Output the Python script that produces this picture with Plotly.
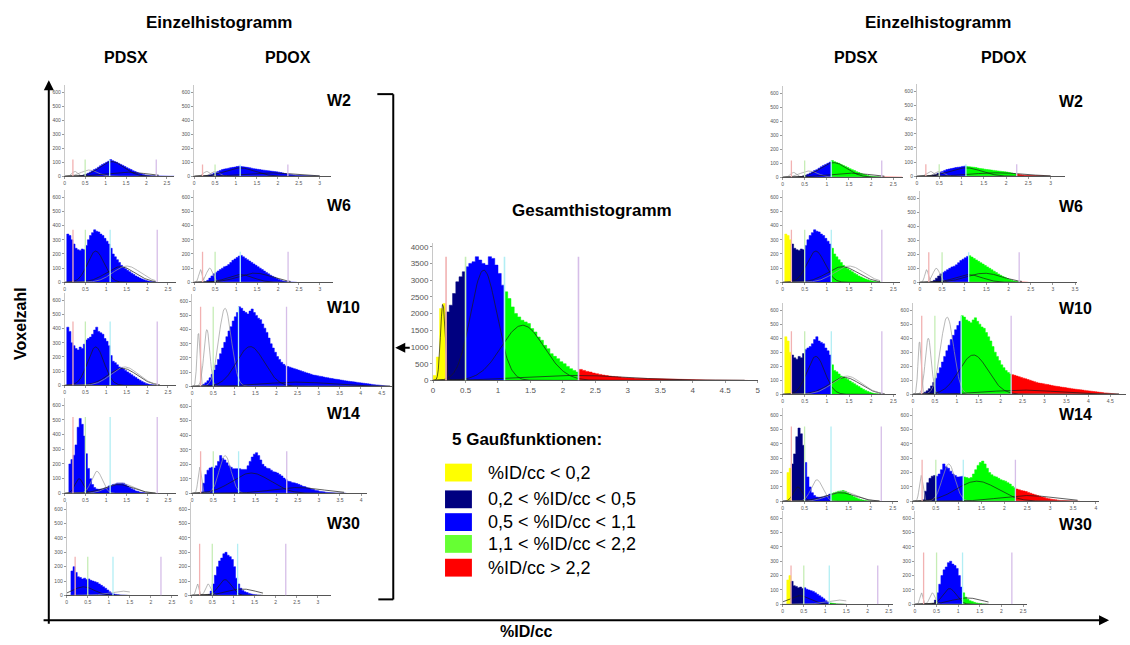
import numpy as np
import plotly.graph_objects as go

# ---------------- data ----------------
BIN = 0.05
thresholds = [0.2, 0.5, 1.1, 2.24]
class_colors = ["#FFFF00", "#000080", "#0000FF", "#00FF00", "#FF0000"]
legend_colors = ["#FFFF00", "#000080", "#0000FF", "#66FF33", "#FF0000"]
legend_labels = ["%ID/cc < 0,2", "0,2 < %ID/cc < 0,5", "0,5 < %ID/cc < 1,1",
                 "1,1 < %ID/cc < 2,2", "%ID/cc > 2,2"]
thr_line_colors = ["#F2B2B2", "#C6EDB6", "#B2EEF4", "#D6BEE8"]
weeks = ["W2", "W6", "W10", "W14", "W30"]
models = ["PDSX", "PDOX"]

# histogram bin heights (bin width 0.05, first bin left edge = *_start)
w2_pdsx_start = 0.35
w2_pdsx = [3, 6, 10, 15, 22, 30, 38, 48, 55, 65, 75, 85, 92, 100, 108, 120, 112, 105, 100, 92,
           85, 78, 70, 62, 55, 48, 40, 34, 28, 22, 18, 14, 10, 8, 6, 5, 4, 3, 3, 2, 2, 2, 1, 1, 1, 1, 1]
w2_pdox_start = 0.25
w2_pdox = [3, 6, 10, 15, 22, 28, 35, 42, 48, 52, 55, 58, 62, 64, 66, 70, 72, 70, 68, 66,
           64, 62, 58, 55, 53, 50, 48, 46, 44, 42, 40, 38, 36, 34, 32, 30, 27, 24, 20, 17,
           14, 12, 10, 8, 7, 6, 5, 4, 3, 3, 2, 2, 1, 1, 1]
w6_pdsx_start = 0.05
w6_pdsx = [340, 330, 300, 270, 240, 230, 225, 235, 230, 260, 300, 330, 350, 370, 360, 355, 340,
           330, 310, 290, 270, 240, 200, 180, 160, 140, 120, 105, 95, 85, 75, 65, 55, 45, 38, 30,
           24, 18, 13, 9, 6, 4, 2, 1]
w6_pdox_start = 0.25
w6_pdox = [5, 15, 30, 45, 60, 70, 80, 90, 100, 110, 115, 125, 140, 155, 165, 175, 185, 190, 180,
           170, 160, 150, 140, 130, 120, 110, 100, 90, 80, 70, 60, 50, 42, 35, 27, 20, 15, 10, 7,
           5, 3, 2, 1, 1]
w10_pdsx_start = 0.05
w10_pdsx = [410, 380, 300, 280, 260, 250, 270, 260, 290, 320, 330, 340, 360, 390, 410, 380, 370,
            360, 330, 310, 280, 210, 170, 160, 145, 130, 125, 115, 105, 95, 85, 75, 65, 55, 45,
            36, 28, 20, 14, 9, 6, 4, 2, 1]
w10_pdox_start = 0.20
w10_pdox = [5, 15, 25, 40, 60, 85, 115, 150, 190, 230, 270, 310, 350, 390, 420, 460, 490, 520,
            560, 550, 530, 520, 510, 530, 545, 520, 500, 480, 470, 440, 410, 380, 340, 300, 270,
            240, 210, 190, 170, 155, 145, 140, 135, 130, 125, 120, 115, 110, 105, 100, 95, 90,
            85, 80, 78, 75, 72, 70, 66, 63, 60, 57, 55, 52, 50, 48, 45, 43, 40, 38, 36, 34, 32,
            30, 28, 26, 24, 22, 20, 18, 16, 14, 12, 10, 9, 8, 7, 6, 5, 4]
w14_pdsx_start = 0.10
w14_pdsx = [200, 230, 260, 330, 450, 510, 470, 390, 270, 170, 100, 60, 40, 30, 28, 28, 30, 35,
            40, 50, 55, 60, 65, 70, 72, 75, 70, 60, 50, 40, 32, 25, 18, 13, 9, 6, 4, 2, 1]
w14_pdox_start = 0.20
w14_pdox = [10, 70, 130, 160, 175, 180, 175, 190, 220, 260, 240, 230, 210, 190, 180, 170, 170,
            175, 170, 165, 160, 165, 190, 220, 250, 270, 280, 260, 230, 200, 185, 175, 170, 160,
            150, 145, 140, 130, 120, 105, 95, 85, 80, 75, 72, 68, 62, 56, 50, 45, 40, 35, 30, 26,
            22, 18, 15, 12, 10, 8, 6, 5, 4, 3, 2, 2, 1, 1, 1]
w30_pdsx_start = 0.10
w30_pdsx = [170, 200, 160, 130, 125, 115, 120, 110, 115, 105, 100, 95, 90, 80, 70, 60, 50, 38,
            25, 15, 10, 7, 5, 3, 2, 1, 1]
w30_pdox_start = 0.40
w30_pdox = [5, 30, 80, 140, 200, 240, 260, 290, 300, 280, 270, 250, 200, 120, 80, 50, 35, 25,
            20, 14, 10, 7, 5, 3, 2]
total_start = 0.0
total_hist = [150, 700, 2150, 2300, 2050, 2250, 2600, 2950, 3100, 3250, 3400, 3500, 3550, 3700,
              3600, 3500, 3450, 3700, 3650, 3450, 3200, 2850, 2650, 2450, 2200, 2000, 1900, 1800,
              1750, 1700, 1550, 1450, 1300, 1200, 1050, 950, 800, 720, 650, 560, 500, 420, 350,
              300, 250, 330, 300, 270, 250, 220, 200, 180, 160, 145, 130, 120, 110, 100, 90, 82,
              75, 70, 65, 62, 60, 55, 50, 47, 45, 40, 38, 35, 33, 30, 28, 25, 23, 20, 18, 16, 15,
              13, 12, 11, 10, 9, 8, 7, 6, 5, 5, 4, 4, 3, 3, 2, 2]

hist = {
    ("W2", "PDSX"): (w2_pdsx_start, w2_pdsx), ("W2", "PDOX"): (w2_pdox_start, w2_pdox),
    ("W6", "PDSX"): (w6_pdsx_start, w6_pdsx), ("W6", "PDOX"): (w6_pdox_start, w6_pdox),
    ("W10", "PDSX"): (w10_pdsx_start, w10_pdsx), ("W10", "PDOX"): (w10_pdox_start, w10_pdox),
    ("W14", "PDSX"): (w14_pdsx_start, w14_pdsx), ("W14", "PDOX"): (w14_pdox_start, w14_pdox),
    ("W30", "PDSX"): (w30_pdsx_start, w30_pdsx), ("W30", "PDOX"): (w30_pdox_start, w30_pdox),
}

# fitted Gaussian components: (amplitude, mean, sd, grey?)
fit_w2_pdsx = [(35, 0.25, 0.07, 1), (45, 0.6, 0.2, 1), (105, 1.15, 0.3, 0), (30, 1.5, 0.5, 0)]
fit_w2_pdox = [(35, 0.3, 0.08, 1), (35, 0.5, 0.1, 1), (60, 1.1, 0.35, 0), (25, 1.8, 0.6, 0)]
fit_w6_pdsx = [(220, 0.75, 0.2, 0), (110, 1.35, 0.35, 0), (115, 1.5, 0.33, 1)]
fit_w6_pdox = [(90, 0.15, 0.04, 1), (100, 0.37, 0.08, 1), (55, 1.1, 0.3, 0), (65, 1.45, 0.4, 0)]
fit_w10_pdsx = [(270, 0.75, 0.2, 0), (120, 1.4, 0.35, 0), (130, 1.45, 0.33, 1)]
fit_w10_pdox = [(380, 0.15, 0.035, 1), (400, 0.35, 0.07, 1), (550, 0.78, 0.15, 1),
                (280, 1.38, 0.33, 0), (30, 2.5, 0.8, 0)]
fit_w14_pdsx = [(100, 0.35, 0.1, 0), (150, 0.78, 0.13, 1), (70, 1.35, 0.3, 1), (60, 1.3, 0.35, 0)]
fit_w14_pdox = [(180, 0.18, 0.04, 1), (260, 0.78, 0.14, 1), (140, 1.4, 0.45, 0), (40, 2.5, 0.6, 0)]
fit_w30_pdsx = [(60, 0.4, 0.25, 0), (30, 1.3, 0.3, 1)]
fit_w30_pdox = [(80, 0.15, 0.035, 1), (80, 0.4, 0.06, 1), (110, 0.8, 0.15, 0), (45, 1.2, 0.35, 0)]
fit_total = [(2300, 0.15, 0.035, 0), (3300, 0.78, 0.2, 0), (1650, 1.38, 0.33, 0), (150, 2.2, 0.8, 0)]
fit_end = {("W2", "PDSX"): 2.3, ("W2", "PDOX"): 3.0, ("W6", "PDSX"): 2.2, ("W6", "PDOX"): 2.3,
           ("W10", "PDSX"): 2.3, ("W10", "PDOX"): 4.7, ("W14", "PDSX"): 2.2, ("W14", "PDOX"): 3.6,
           ("W30", "PDSX"): 1.5, ("W30", "PDOX"): 1.7, "total": 4.8}
fits = {
    ("W2", "PDSX"): fit_w2_pdsx, ("W2", "PDOX"): fit_w2_pdox,
    ("W6", "PDSX"): fit_w6_pdsx, ("W6", "PDOX"): fit_w6_pdox,
    ("W10", "PDSX"): fit_w10_pdsx, ("W10", "PDOX"): fit_w10_pdox,
    ("W14", "PDSX"): fit_w14_pdsx, ("W14", "PDOX"): fit_w14_pdox,
    ("W30", "PDSX"): fit_w30_pdsx, ("W30", "PDOX"): fit_w30_pdox,
}
# height of the threshold marker lines
thr_height = {("W2", "PDSX"): 120, ("W2", "PDOX"): 85, ("W6", "PDSX"): 370, ("W6", "PDOX"): 215,
              ("W10", "PDSX"): 450, ("W10", "PDOX"): 560, ("W14", "PDSX"): 520,
              ("W14", "PDOX"): 290, ("W30", "PDSX"): 270, ("W30", "PDOX"): 360, "total": 3700}

# ---------------- layout geometry (pixels) ----------------
W, H = 1130, 645
# (x0_px, x1_px, baseline_py, py_at_600, xmax)
geo_left = {
    ("W2", "PDSX"): (63, 173, 177, 92, 2.68), ("W2", "PDOX"): (193, 330, 177, 92, 3.26),
    ("W6", "PDSX"): (63, 175, 284, 198, 2.7), ("W6", "PDOX"): (193, 332, 284, 198, 3.3),
    ("W10", "PDSX"): (63, 175, 388, 302, 2.7), ("W10", "PDOX"): (191, 392, 389, 303, 4.75),
    ("W14", "PDSX"): (63, 175, 497, 408, 2.7), ("W14", "PDOX"): (191, 367, 497, 409, 4.15),
    ("W30", "PDSX"): (65, 177, 600, 513, 2.65), ("W30", "PDOX"): (190, 330, 600, 513, 3.3),
}
geo_right = {
    ("W2", "PDSX"): (784, 905, 178, 93, 2.72), ("W2", "PDOX"): (919, 1068, 177, 91, 3.33),
    ("W6", "PDSX"): (784, 902, 284, 198, 2.65), ("W6", "PDOX"): (922, 1080, 284, 199, 3.55),
    ("W10", "PDSX"): (784, 898, 397, 312, 2.56), ("W10", "PDOX"): (915, 1129, 397, 312, 4.86),
    ("W14", "PDSX"): (784, 900, 505, 418, 2.62), ("W14", "PDOX"): (915, 1102, 505, 418, 4.07),
    ("W30", "PDSX"): (784, 895, 609, 522, 2.6), ("W30", "PDOX"): (917, 1030, 609, 522, 2.6),
}

fig = go.Figure()
layout_axes = {}
shapes = []
counter = [0]


def cls_index(c):
    for i, t in enumerate(thresholds):
        if c < t:
            return i
    return 4


def add_panel(start, vals, fitlist, fend, thr_h, box, colored, big=False):
    counter[0] += 1
    n = counter[0]
    xa = "x" if n == 1 else f"x{n}"
    ya = "y" if n == 1 else f"y{n}"
    x0p, x1p, basep, refp, xmax = box
    if big:
        refv, ytop, dty, fs = 4000, 4100, 500, 8
    else:
        refv, ytop, dty, fs = 600, 650, 100, 5
    topp = basep - (basep - refp) * ytop / refv
    # group bins by colour class and draw each class as stepped filled outlines
    classes = [cls_index(start + BIN * (i + 0.5)) if colored else 2 for i in range(len(vals))]
    for k in sorted(set(classes)):
        px, py = [], []
        i = 0
        while i < len(vals):
            if classes[i] != k:
                i += 1
                continue
            j = i
            left = start + BIN * i
            px.append(left)
            py.append(0)
            while j < len(vals) and classes[j] == k:
                l = start + BIN * j
                px += [l, l + BIN]
                py += [vals[j], vals[j]]
                j += 1
            px.append(start + BIN * j)
            py.append(0)
            px.append(None)
            py.append(None)
            i = j
        fig.add_trace(go.Scatter(x=px, y=py, mode="lines", fill="toself",
                                 fillcolor=class_colors[k], line=dict(color=class_colors[k], width=0.5),
                                 xaxis=xa, yaxis=ya, showlegend=False, hoverinfo="skip"))
    xs = np.linspace(0, fend, 300)
    for amp, mu, sd, grey in fitlist:
        ys = amp * np.exp(-0.5 * ((xs - mu) / sd) ** 2)
        fig.add_trace(go.Scatter(x=xs, y=ys, mode="lines",
                                 line=dict(color="#9a9a9a" if grey else "#1a1a1a", width=0.7),
                                 xaxis=xa, yaxis=ya, showlegend=False, hoverinfo="skip"))
    for t, c in zip(thresholds, thr_line_colors):
        shapes.append(dict(type="line", xref=xa, yref=ya, x0=t, x1=t, y0=0, y1=thr_h,
                           line=dict(color=c, width=1.6 if big else 1.3), layer="above"))
    kx = "xaxis" if n == 1 else f"xaxis{n}"
    ky = "yaxis" if n == 1 else f"yaxis{n}"
    layout_axes[kx] = dict(domain=[x0p / W, x1p / W], range=[0, xmax], anchor=ya, dtick=0.5,
                           showgrid=False, zeroline=False, showline=True, linecolor="#555",
                           linewidth=1, ticks="outside", ticklen=2, tickcolor="#999",
                           tickfont=dict(size=fs, color="#555", family="Arial"), fixedrange=True)
    layout_axes[ky] = dict(domain=[1 - basep / H, 1 - topp / H], range=[0, ytop], anchor=xa,
                           dtick=dty, showgrid=False, zeroline=False, showline=True,
                           linecolor="#c8c8c8", linewidth=1, ticks="outside", ticklen=2,
                           tickcolor="#999", tickfont=dict(size=fs, color="#555", family="Arial"),
                           fixedrange=True)


for wk in weeks:
    for md in models:
        st, v = hist[(wk, md)]
        add_panel(st, v, fits[(wk, md)], fit_end[(wk, md)], thr_height[(wk, md)], geo_left[(wk, md)], False)
        add_panel(st, v, fits[(wk, md)], fit_end[(wk, md)], thr_height[(wk, md)], geo_right[(wk, md)], True)

add_panel(total_start, total_hist, fit_total, fit_end["total"], thr_height["total"],
          (433, 759, 383, 248, 5.0), True, big=True)

# ---------------- texts ----------------
ann = []


def txt(s, xp, yp, size, bold=True, xanchor="center", angle=0):
    ann.append(dict(text=f"<b>{s}</b>" if bold else s, x=xp / W, y=1 - yp / H, xref="paper",
                    yref="paper", showarrow=False, xanchor=xanchor, yanchor="middle",
                    textangle=angle, borderpad=0,
                    font=dict(size=size, color="#000", family="Arial")))


txt("Einzelhistogramm", 218, 22, 17)
txt("Einzelhistogramm", 940, 22, 17)
txt("PDSX", 125, 57, 16)
txt("PDOX", 287, 57, 16)
txt("PDSX", 858, 57, 16)
txt("PDOX", 1006, 57, 16)
w_y = [100, 206, 309, 416, 527]
for wk, yy in zip(weeks, w_y):
    txt(wk, 325, yy, 16, xanchor="left")
    txt(wk, 1061, yy + 1, 16, xanchor="left")
txt("Gesamthistogramm", 593, 211, 17)
txt("5 Gaußfunktionen:", 451, 443, 17, xanchor="left")
txt("%ID/cc", 527, 636, 16)
txt("Voxelzahl", 19, 325, 16, angle=-90)

leg_y = [476, 503, 526, 548, 572]
for col, lab, yy in zip(legend_colors, legend_labels, leg_y):
    shapes.append(dict(type="rect", xref="paper", yref="paper", x0=445 / W, x1=472 / W,
                       y0=1 - (yy + 9) / H, y1=1 - (yy - 9) / H, fillcolor=col, line=dict(width=0)))
    txt(lab, 487, yy, 18, bold=False, xanchor="left")


# ---------------- arrows and bracket ----------------
def pline(x0, y0, x1, y1, w=2):
    shapes.append(dict(type="line", xref="paper", yref="paper", x0=x0 / W, x1=x1 / W,
                       y0=1 - y0 / H, y1=1 - y1 / H, line=dict(color="#000", width=w)))


pline(393, 94, 393, 604)
pline(377, 94, 393, 94)
pline(378, 604, 393, 604)

ann.append(dict(x=47 / W, y=1 - 80 / H, xref="paper", yref="paper", ax=0, ay=545, text="",
                showarrow=True, arrowhead=2, arrowsize=1, arrowwidth=2, arrowcolor="#000"))
ann.append(dict(x=1112 / W, y=1 - 625 / H, xref="paper", yref="paper", ax=-1067, ay=0, text="",
                showarrow=True, arrowhead=2, arrowsize=1, arrowwidth=2, arrowcolor="#000"))
ann.append(dict(x=395 / W, y=1 - 350 / H, xref="paper", yref="paper", ax=16, ay=0, text="",
                showarrow=True, arrowhead=2, arrowsize=1, arrowwidth=2, arrowcolor="#000"))

fig.update_layout(width=W, height=H, margin=dict(l=0, r=0, t=0, b=0), paper_bgcolor="white",
                  plot_bgcolor="white", showlegend=False,
                  shapes=shapes, annotations=ann, **layout_axes)

fig.write_html("out.html", config={"displayModeBar": False},
               post_script="document.body.style.margin='0';document.body.style.overflow='hidden';")
